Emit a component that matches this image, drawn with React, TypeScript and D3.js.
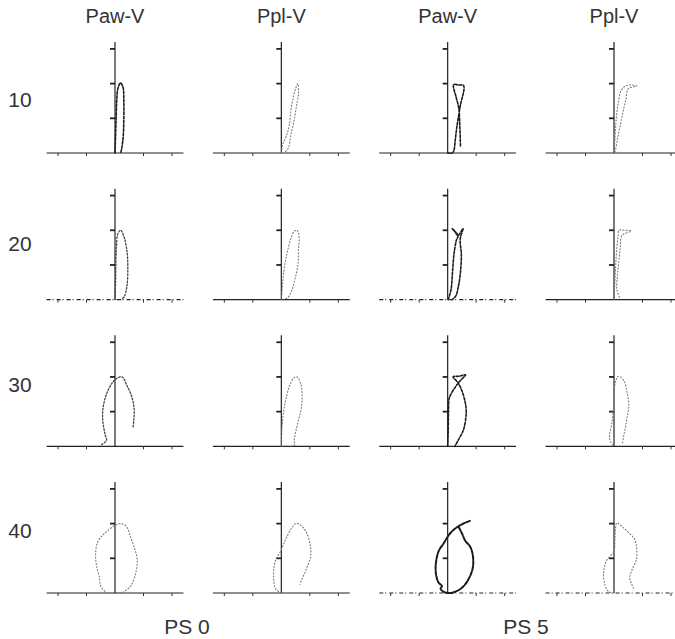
import React, { useEffect } from "react";
import * as d3 from "d3";

type Pt = [number, number];

const columnTitles = ["Paw-V", "Ppl-V", "Paw-V", "Ppl-V"];
const rowLabels = ["10", "20", "30", "40"];
const groupLabels = ["PS 0", "PS 5"];
const xTicks = [-2, -1, 1, 2];
const yTicks = [1, 2, 3];

// loops in axis units (x: volume-ish, y: pressure-ish); rows = 10,20,30,40
const ps0Paw10: Pt[] = [[0,0],[0.02,0.5],[0.04,1.0],[0.06,1.5],[0.1,1.85],[0.19,2.02],[0.28,1.9],[0.31,1.5],[0.31,1.0],[0.29,0.5],[0.24,0.15],[0.2,0]];
const ps0Ppl10: Pt[] = [[0,0],[0.05,0.25],[0.18,0.5],[0.28,0.8],[0.33,1.2],[0.42,1.6],[0.5,1.85],[0.58,2.0],[0.6,1.7],[0.52,1.3],[0.44,0.9],[0.33,0.5],[0.25,0.15],[0.1,0]];
const ps5Paw10: Pt[] = [[0,0],[0.15,0],[0.21,0.05],[0.27,0.4],[0.32,0.74],[0.44,1.35],[0.56,1.94],[0.38,1.96],[0.21,1.97],[0.3,1.6],[0.39,1.29],[0.43,0.7],[0.45,0.18]];
const ps5Ppl10: Pt[] = [[0,0],[0.04,0.5],[0.08,1.0],[0.15,1.45],[0.25,1.8],[0.4,1.93],[0.6,1.96],[0.8,1.93],[0.5,1.85],[0.42,1.55],[0.32,1.2],[0.22,0.8],[0.12,0.4],[0.05,0.05]];

const ps0Paw20: Pt[] = [[0,0],[0.02,0.5],[0.03,1.0],[0.05,1.5],[0.1,1.9],[0.2,2.0],[0.32,1.8],[0.42,1.4],[0.45,0.9],[0.42,0.4],[0.32,0.08],[0.2,0]];
const ps0Ppl20: Pt[] = [[0,0],[0.03,0.3],[0.06,0.6],[0.12,1.0],[0.22,1.4],[0.33,1.75],[0.45,1.97],[0.55,2.0],[0.62,1.85],[0.6,1.4],[0.58,1.0],[0.48,0.6],[0.38,0.3],[0.25,0.08],[0.1,0]];
const ps5Paw20: Pt[] = [[0.02,0],[0.12,0.3],[0.17,0.8],[0.22,1.3],[0.3,1.7],[0.36,1.85],[0.16,2.05],[0.26,1.95],[0.36,1.85],[0.54,2.05],[0.44,1.75],[0.48,1.3],[0.45,0.8],[0.38,0.4],[0.28,0.1],[0.15,0]];
const ps5Ppl20: Pt[] = [[0,0],[0.03,0.5],[0.06,1.0],[0.1,1.5],[0.14,1.8],[0.18,2.0],[0.35,2.0],[0.6,1.98],[0.28,1.85],[0.22,1.5],[0.17,1.1],[0.12,0.7],[0.1,0.3],[0.2,0.05]];

const ps0Paw30: Pt[] = [[-0.47,0.05],[-0.3,0.17],[-0.35,0.35],[-0.43,0.75],[-0.42,1.1],[-0.3,1.5],[-0.12,1.8],[0.05,1.95],[0.25,2.0],[0.42,1.75],[0.58,1.45],[0.67,1.1],[0.66,0.75],[0.63,0.52]];
const ps0Ppl30: Pt[] = [[0,0],[0.02,0.5],[0.08,1.0],[0.16,1.36],[0.29,1.75],[0.45,1.98],[0.55,2.0],[0.68,1.8],[0.73,1.45],[0.7,1.1],[0.6,0.75],[0.5,0.4],[0.45,0.15],[0.48,0.05],[0.3,0]];
const ps5Paw30: Pt[] = [[0,0],[0.02,0.5],[0.03,1.0],[0.06,1.4],[0.28,1.72],[0.45,1.9],[0.63,2.06],[0.4,2.02],[0.19,2.0],[0.35,1.85],[0.5,1.6],[0.62,1.25],[0.65,0.97],[0.56,0.49],[0.38,0.19],[0.25,0]];
const ps5Ppl30: Pt[] = [[0.3,0.1],[0.34,0.29],[0.4,0.55],[0.45,0.8],[0.52,1.17],[0.46,1.55],[0.34,1.9],[0.15,2.02],[0.05,1.85],[0,1.4],[-0.05,0.8],[-0.15,0.2],[0,0]];

const ps0Paw40: Pt[] = [[0.3,0.03],[0.1,0],[-0.3,0.02],[-0.5,0.2],[-0.55,0.45],[-0.65,0.8],[-0.68,1.1],[-0.62,1.45],[-0.45,1.65],[-0.25,1.8],[0.0,1.95],[0.2,2.0],[0.4,1.92],[0.55,1.6],[0.7,1.25],[0.78,0.95],[0.72,0.55],[0.55,0.2],[0.3,0.03]];
const ps0Ppl40: Pt[] = [[0,0],[-0.2,0.12],[-0.27,0.45],[-0.22,0.9],[0.0,1.25],[0.15,1.55],[0.35,1.85],[0.5,2.0],[0.65,1.97],[0.88,1.75],[1.02,1.35],[1.03,1.05],[0.88,0.7],[0.7,0.35],[0.65,0.25]];
const ps5Paw40: Pt[] = [[0.78,2.08],[0.55,2.0],[0.3,1.88],[0.12,1.75],[0.0,1.62],[-0.15,1.42],[-0.32,1.2],[-0.42,0.8],[-0.4,0.5],[-0.32,0.3],[-0.2,0.2],[-0.25,0.12],[-0.1,0.02],[0.1,0],[0.3,0.05],[0.5,0.15],[0.7,0.35],[0.88,0.72],[0.88,1.1],[0.78,1.35],[0.62,1.5],[0.5,1.72],[0.4,1.88]];
const ps5Ppl40: Pt[] = [[0,0],[-0.2,0.05],[-0.35,0.35],[-0.35,0.7],[-0.25,0.95],[0,1.2],[0.03,1.5],[0.05,1.8],[0.1,2.02],[0.3,1.9],[0.5,1.75],[0.72,1.55],[0.8,1.25],[0.78,0.95],[0.65,0.7],[0.55,0.45],[0.6,0.3],[0.68,0.14]];

const loops: Pt[][][] = [
  [ps0Paw10, ps0Ppl10, ps5Paw10, ps5Ppl10],
  [ps0Paw20, ps0Ppl20, ps5Paw20, ps5Ppl20],
  [ps0Paw30, ps0Ppl30, ps5Paw30, ps5Ppl30],
  [ps0Paw40, ps0Ppl40, ps5Paw40, ps5Ppl40],
];

// styling (not data)
const STYLES: Record<string, { stroke: string; width: number; dash: string }> = {
  dark: { stroke: "#1e1e1e", width: 1.6, dash: "2.6 1.6" },
  heavy: { stroke: "#1a1a1a", width: 2, dash: "4 1.4" },
  medium: { stroke: "#444", width: 1.3, dash: "1.6 1.8" },
  light: { stroke: "#777", width: 1.1, dash: "1 2.2" },
};
const panelStyle = [
  ["dark", "light", "dark", "light"],
  ["medium", "light", "dark", "light"],
  ["medium", "light", "dark", "light"],
  ["light", "light", "heavy", "light"],
];
const dottedBase = [
  [false, false, false, false],
  [true, false, true, false],
  [false, false, false, false],
  [false, false, true, true],
];

const W = 675;
const H = 639;
const colX = d3.scaleLinear().domain([0, 3]).range([115, 614]);
const rowBase = d3.scaleLinear().domain([0, 3]).range([153, 593]);
const X_UNIT = 28.5;
const Y_UNIT = 34.7;
const rowLabelY = [99, 243, 384, 530];

function Panel({ r, c }: { r: number; c: number }) {
  const cx = colX(c);
  const base = rowBase(r);
  const x = d3.scaleLinear().domain([-2.4, 2.4]).range([cx - 2.4 * X_UNIT, cx + 2.4 * X_UNIT]);
  const y = d3.scaleLinear().domain([0, 3]).range([base, base - 3 * Y_UNIT]);
  const line = d3
    .line<Pt>()
    .x((d) => x(d[0]))
    .y((d) => y(d[1]))
    .curve(d3.curveCatmullRom.alpha(0.5));
  const st = STYLES[panelStyle[r][c]];
  const dotted = dottedBase[r][c];
  return (
    <g>
      <line
        x1={x(-2.4)}
        x2={x(2.4)}
        y1={y(0)}
        y2={y(0)}
        stroke="#222"
        strokeWidth={1.1}
        strokeDasharray={dotted ? "4 2 1 3" : undefined}
      />
      {xTicks.map((t) => (
        <line key={t} x1={x(t)} x2={x(t)} y1={y(0)} y2={y(0) + 3} stroke="#333" strokeWidth={1} />
      ))}
      <line x1={x(0)} x2={x(0)} y1={y(0)} y2={y(3.2)} stroke="#222" strokeWidth={1.2} />
      {yTicks.map((t) => (
        <line key={t} x1={x(0) - 5} x2={x(0)} y1={y(t)} y2={y(t)} stroke="#222" strokeWidth={1.8} />
      ))}
      <path
        d={line(loops[r][c]) || ""}
        fill="none"
        stroke={st.stroke}
        strokeWidth={st.width}
        strokeDasharray={st.dash}
        strokeLinecap="round"
      />
    </g>
  );
}

export default function App() {
  useEffect(() => {
    document.body.style.margin = "0";
  }, []);
  const font = "'Liberation Sans', Arial, sans-serif";
  return (
    <svg width={W} height={H} style={{ display: "block", background: "#fff" }}>
      {columnTitles.map((t, i) => (
        <text key={i} x={colX(i)} y={22.5} textAnchor="middle" fontFamily={font} fontSize={20} fill="#333">
          {t}
        </text>
      ))}
      {rowLabels.map((t, i) => (
        <text key={i} x={20} y={rowLabelY[i]} textAnchor="middle" dominantBaseline="central" fontFamily={font} fontSize={21} fill="#333">
          {t}
        </text>
      ))}
      {loops.map((row, r) => row.map((_, c) => <Panel key={`${r}-${c}`} r={r} c={c} />))}
      <text x={187} y={634} textAnchor="middle" fontFamily={font} fontSize={21} fill="#333">
        {groupLabels[0]}
      </text>
      <text x={526} y={634} textAnchor="middle" fontFamily={font} fontSize={21} fill="#333">
        {groupLabels[1]}
      </text>
    </svg>
  );
}
